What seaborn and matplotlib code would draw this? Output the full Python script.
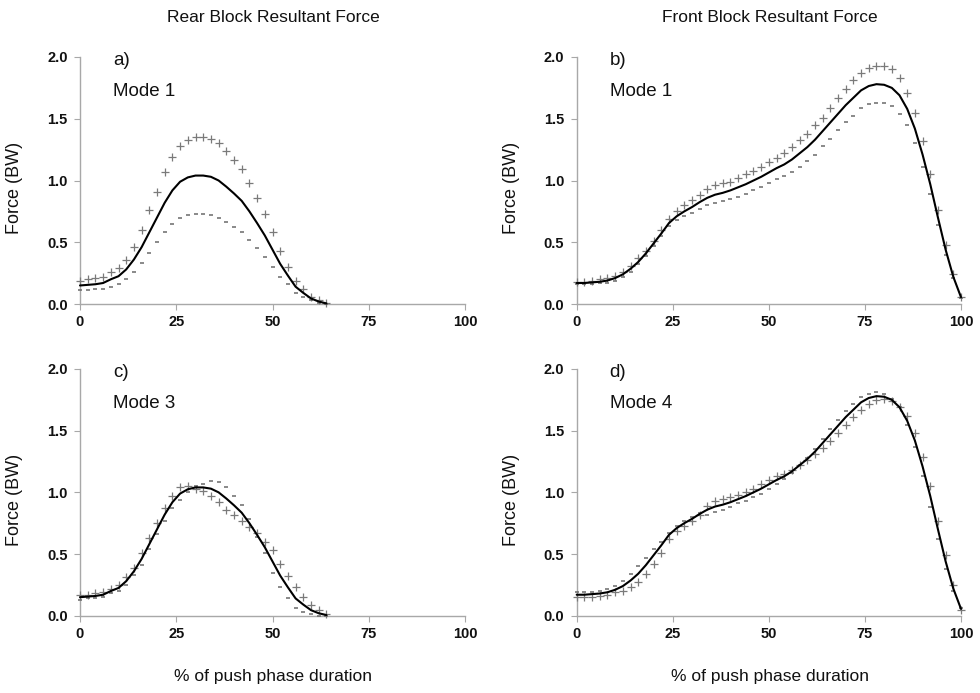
import matplotlib
matplotlib.use("Agg")
import matplotlib.pyplot as plt
import seaborn as sns
import pandas as pd

# ---------------- data ----------------
pct_rear = list(range(0, 65, 2))     # % of push phase (rear block, 0..64)
pct_front = list(range(0, 101, 2))   # % of push phase (front block, 0..100)

rear_mean = [0.15, 0.155, 0.16, 0.17, 0.20, 0.225, 0.28, 0.36, 0.46, 0.58, 0.70,
             0.82, 0.92, 0.99, 1.025, 1.04, 1.04, 1.03, 1.00, 0.95, 0.895, 0.835,
             0.75, 0.655, 0.555, 0.44, 0.325, 0.23, 0.14, 0.09, 0.045, 0.02, 0.005]
rear_a_plus = [0.19, 0.20, 0.21, 0.22, 0.26, 0.29, 0.36, 0.46, 0.60, 0.76, 0.91,
               1.07, 1.19, 1.28, 1.33, 1.35, 1.35, 1.34, 1.30, 1.24, 1.17, 1.09,
               0.98, 0.86, 0.73, 0.58, 0.43, 0.30, 0.19, 0.12, 0.06, 0.03, 0.01]
rear_a_minus = [0.11, 0.11, 0.12, 0.12, 0.14, 0.16, 0.20, 0.26, 0.33, 0.41, 0.50,
                0.58, 0.65, 0.70, 0.72, 0.73, 0.73, 0.72, 0.70, 0.66, 0.62, 0.58,
                0.52, 0.45, 0.38, 0.30, 0.22, 0.16, 0.09, 0.06, 0.03, 0.01, 0.00]
rear_c_plus = [0.17, 0.17, 0.18, 0.19, 0.22, 0.25, 0.31, 0.39, 0.51, 0.63, 0.75,
               0.87, 0.97, 1.04, 1.05, 1.03, 1.01, 0.97, 0.92, 0.86, 0.82, 0.77,
               0.72, 0.67, 0.60, 0.53, 0.42, 0.32, 0.23, 0.15, 0.09, 0.05, 0.01]
rear_c_minus = [0.13, 0.14, 0.14, 0.15, 0.18, 0.20, 0.25, 0.33, 0.41, 0.54, 0.66,
                0.77, 0.87, 0.94, 1.00, 1.05, 1.07, 1.09, 1.08, 1.04, 0.97, 0.90,
                0.78, 0.64, 0.51, 0.35, 0.23, 0.14, 0.06, 0.03, 0.01, 0.00, 0.00]

front_mean = [0.17, 0.17, 0.175, 0.18, 0.19, 0.21, 0.24, 0.285, 0.34, 0.41, 0.49,
              0.57, 0.655, 0.71, 0.75, 0.785, 0.825, 0.86, 0.885, 0.90, 0.92,
              0.945, 0.97, 1.00, 1.03, 1.065, 1.10, 1.13, 1.17, 1.22, 1.27,
              1.33, 1.40, 1.47, 1.54, 1.61, 1.67, 1.73, 1.765, 1.78, 1.775,
              1.75, 1.69, 1.58, 1.42, 1.21, 0.97, 0.70, 0.44, 0.22, 0.055]
front_b_plus = [0.18, 0.18, 0.19, 0.20, 0.21, 0.23, 0.26, 0.31, 0.37, 0.43, 0.51,
                0.60, 0.69, 0.75, 0.80, 0.84, 0.88, 0.93, 0.96, 0.98, 0.99,
                1.02, 1.05, 1.08, 1.11, 1.15, 1.18, 1.22, 1.27, 1.33, 1.38,
                1.45, 1.51, 1.59, 1.67, 1.74, 1.81, 1.87, 1.91, 1.93, 1.93,
                1.90, 1.83, 1.71, 1.55, 1.32, 1.05, 0.76, 0.48, 0.24, 0.06]
front_b_minus = [0.16, 0.16, 0.16, 0.17, 0.17, 0.19, 0.22, 0.26, 0.32, 0.39, 0.47,
                 0.55, 0.63, 0.68, 0.71, 0.74, 0.77, 0.80, 0.82, 0.83, 0.85,
                 0.87, 0.89, 0.92, 0.95, 0.98, 1.01, 1.04, 1.07, 1.11, 1.16,
                 1.21, 1.28, 1.34, 1.41, 1.47, 1.52, 1.59, 1.62, 1.63, 1.63,
                 1.60, 1.54, 1.45, 1.30, 1.11, 0.89, 0.64, 0.40, 0.21, 0.05]
front_d_plus = [0.155, 0.155, 0.155, 0.16, 0.17, 0.19, 0.20, 0.235, 0.27, 0.34, 0.42,
                0.51, 0.62, 0.69, 0.73, 0.77, 0.82, 0.89, 0.93, 0.95, 0.96,
                0.98, 1.00, 1.03, 1.07, 1.10, 1.13, 1.15, 1.18, 1.22, 1.26,
                1.31, 1.36, 1.42, 1.48, 1.55, 1.61, 1.67, 1.72, 1.75, 1.76,
                1.74, 1.69, 1.62, 1.48, 1.29, 1.05, 0.77, 0.49, 0.25, 0.05]
front_d_minus = [0.19, 0.19, 0.195, 0.20, 0.22, 0.24, 0.28, 0.34, 0.40, 0.47, 0.54,
                 0.60, 0.67, 0.73, 0.77, 0.80, 0.83, 0.82, 0.84, 0.86, 0.88,
                 0.91, 0.93, 0.96, 0.99, 1.03, 1.07, 1.11, 1.16, 1.22, 1.28,
                 1.35, 1.43, 1.51, 1.59, 1.66, 1.72, 1.77, 1.80, 1.81, 1.80,
                 1.76, 1.69, 1.55, 1.37, 1.13, 0.88, 0.62, 0.38, 0.20, 0.06]

panel_letters = ["a)", "b)", "c)", "d)"]
panel_modes = ["Mode 1", "Mode 1", "Mode 3", "Mode 4"]
column_titles = ["Rear Block Resultant Force", "Front Block Resultant Force"]
x_label = "% of push phase duration"
y_label = "Force (BW)"
y_ticks = [0.0, 0.5, 1.0, 1.5, 2.0]
x_ticks = [0, 25, 50, 75, 100]

# ---------------- style ----------------
sns.set_theme(style="white")
plt.rcParams["font.family"] = ["Liberation Sans", "DejaVu Sans"]

W, H = 980, 693
fig = plt.figure(figsize=(W / 100, H / 100), dpi=100)


def axes_px(x0, x1, ytop, ybot):
    return fig.add_axes([x0 / W, 1 - ybot / H, (x1 - x0) / W, (ybot - ytop) / H])


layout = [
    (80, 465, 57, 304),
    (576.7, 961, 57, 304),
    (80, 465, 369, 615.7),
    (576.7, 961, 369, 615.7),
]

panels = [
    (pct_rear, rear_mean, rear_a_plus, rear_a_minus),
    (pct_front, front_mean, front_b_plus, front_b_minus),
    (pct_rear, rear_mean, rear_c_plus, rear_c_minus),
    (pct_front, front_mean, front_d_plus, front_d_minus),
]

spine_col = "#a8a8a8"
plus_col = "#7a7a7a"
minus_col = "#6a6a6a"

for i, (lay, (xs, mean, plus, minus)) in enumerate(zip(layout, panels)):
    ax = axes_px(*lay)
    df = pd.DataFrame({"pct": xs, "mean": mean, "plus": plus, "minus": minus})
    sns.scatterplot(data=df, x="pct", y="plus", marker="+", s=32, color=plus_col,
                    linewidth=0.9, ax=ax, clip_on=False, zorder=3)
    sns.scatterplot(data=df, x="pct", y="minus", marker="_", s=12, color=minus_col,
                    linewidth=1.1, ax=ax, clip_on=False, zorder=3)
    sns.lineplot(data=df, x="pct", y="mean", color="black", linewidth=1.5,
                 ax=ax, zorder=4, clip_on=False)

    ax.set_xlim(0, 100)
    ax.set_ylim(0, 2.0)
    ax.set_xticks(x_ticks)
    ax.set_yticks(y_ticks)
    ax.set_yticklabels([f"{v:.1f}" for v in y_ticks])
    ax.set_xticklabels([str(v) for v in x_ticks])
    for lab in ax.get_xticklabels() + ax.get_yticklabels():
        lab.set_fontweight("bold")
        lab.set_fontsize(10.5)
        lab.set_color("#111111")
    ax.tick_params(axis="both", which="major", direction="out", length=4,
                   width=0.8, color=spine_col, left=True, bottom=True)
    ax.tick_params(axis="x", pad=4)
    ax.tick_params(axis="y", pad=5)
    for side in ["top", "right"]:
        ax.spines[side].set_visible(False)
    for side in ["left", "bottom"]:
        ax.spines[side].set_color(spine_col)
        ax.spines[side].set_linewidth(1.0)
    ax.set_xlabel("")
    ax.set_ylabel(y_label, fontsize=13, color="#111111")
    ax.yaxis.set_label_coords(-0.148, 0.47)
    ax.grid(False)

    ax.text(8.6, 1.975, panel_letters[i], fontsize=13.5, va="center", ha="left",
            color="#111111")
    ax.text(8.6, 1.72, panel_modes[i], fontsize=13.5, va="center", ha="left",
            color="#111111")

fig.text(273 / W, 1 - 18 / H, column_titles[0], ha="center", va="center",
         fontsize=12.5, color="#111111")
fig.text(770 / W, 1 - 18 / H, column_titles[1], ha="center", va="center",
         fontsize=12.5, color="#111111")
fig.text(273 / W, 1 - 677 / H, x_label, ha="center", va="center",
         fontsize=12.5, color="#111111")
fig.text(770 / W, 1 - 677 / H, x_label, ha="center", va="center",
         fontsize=12.5, color="#111111")

fig.savefig("out.png", dpi=100, facecolor="white")
